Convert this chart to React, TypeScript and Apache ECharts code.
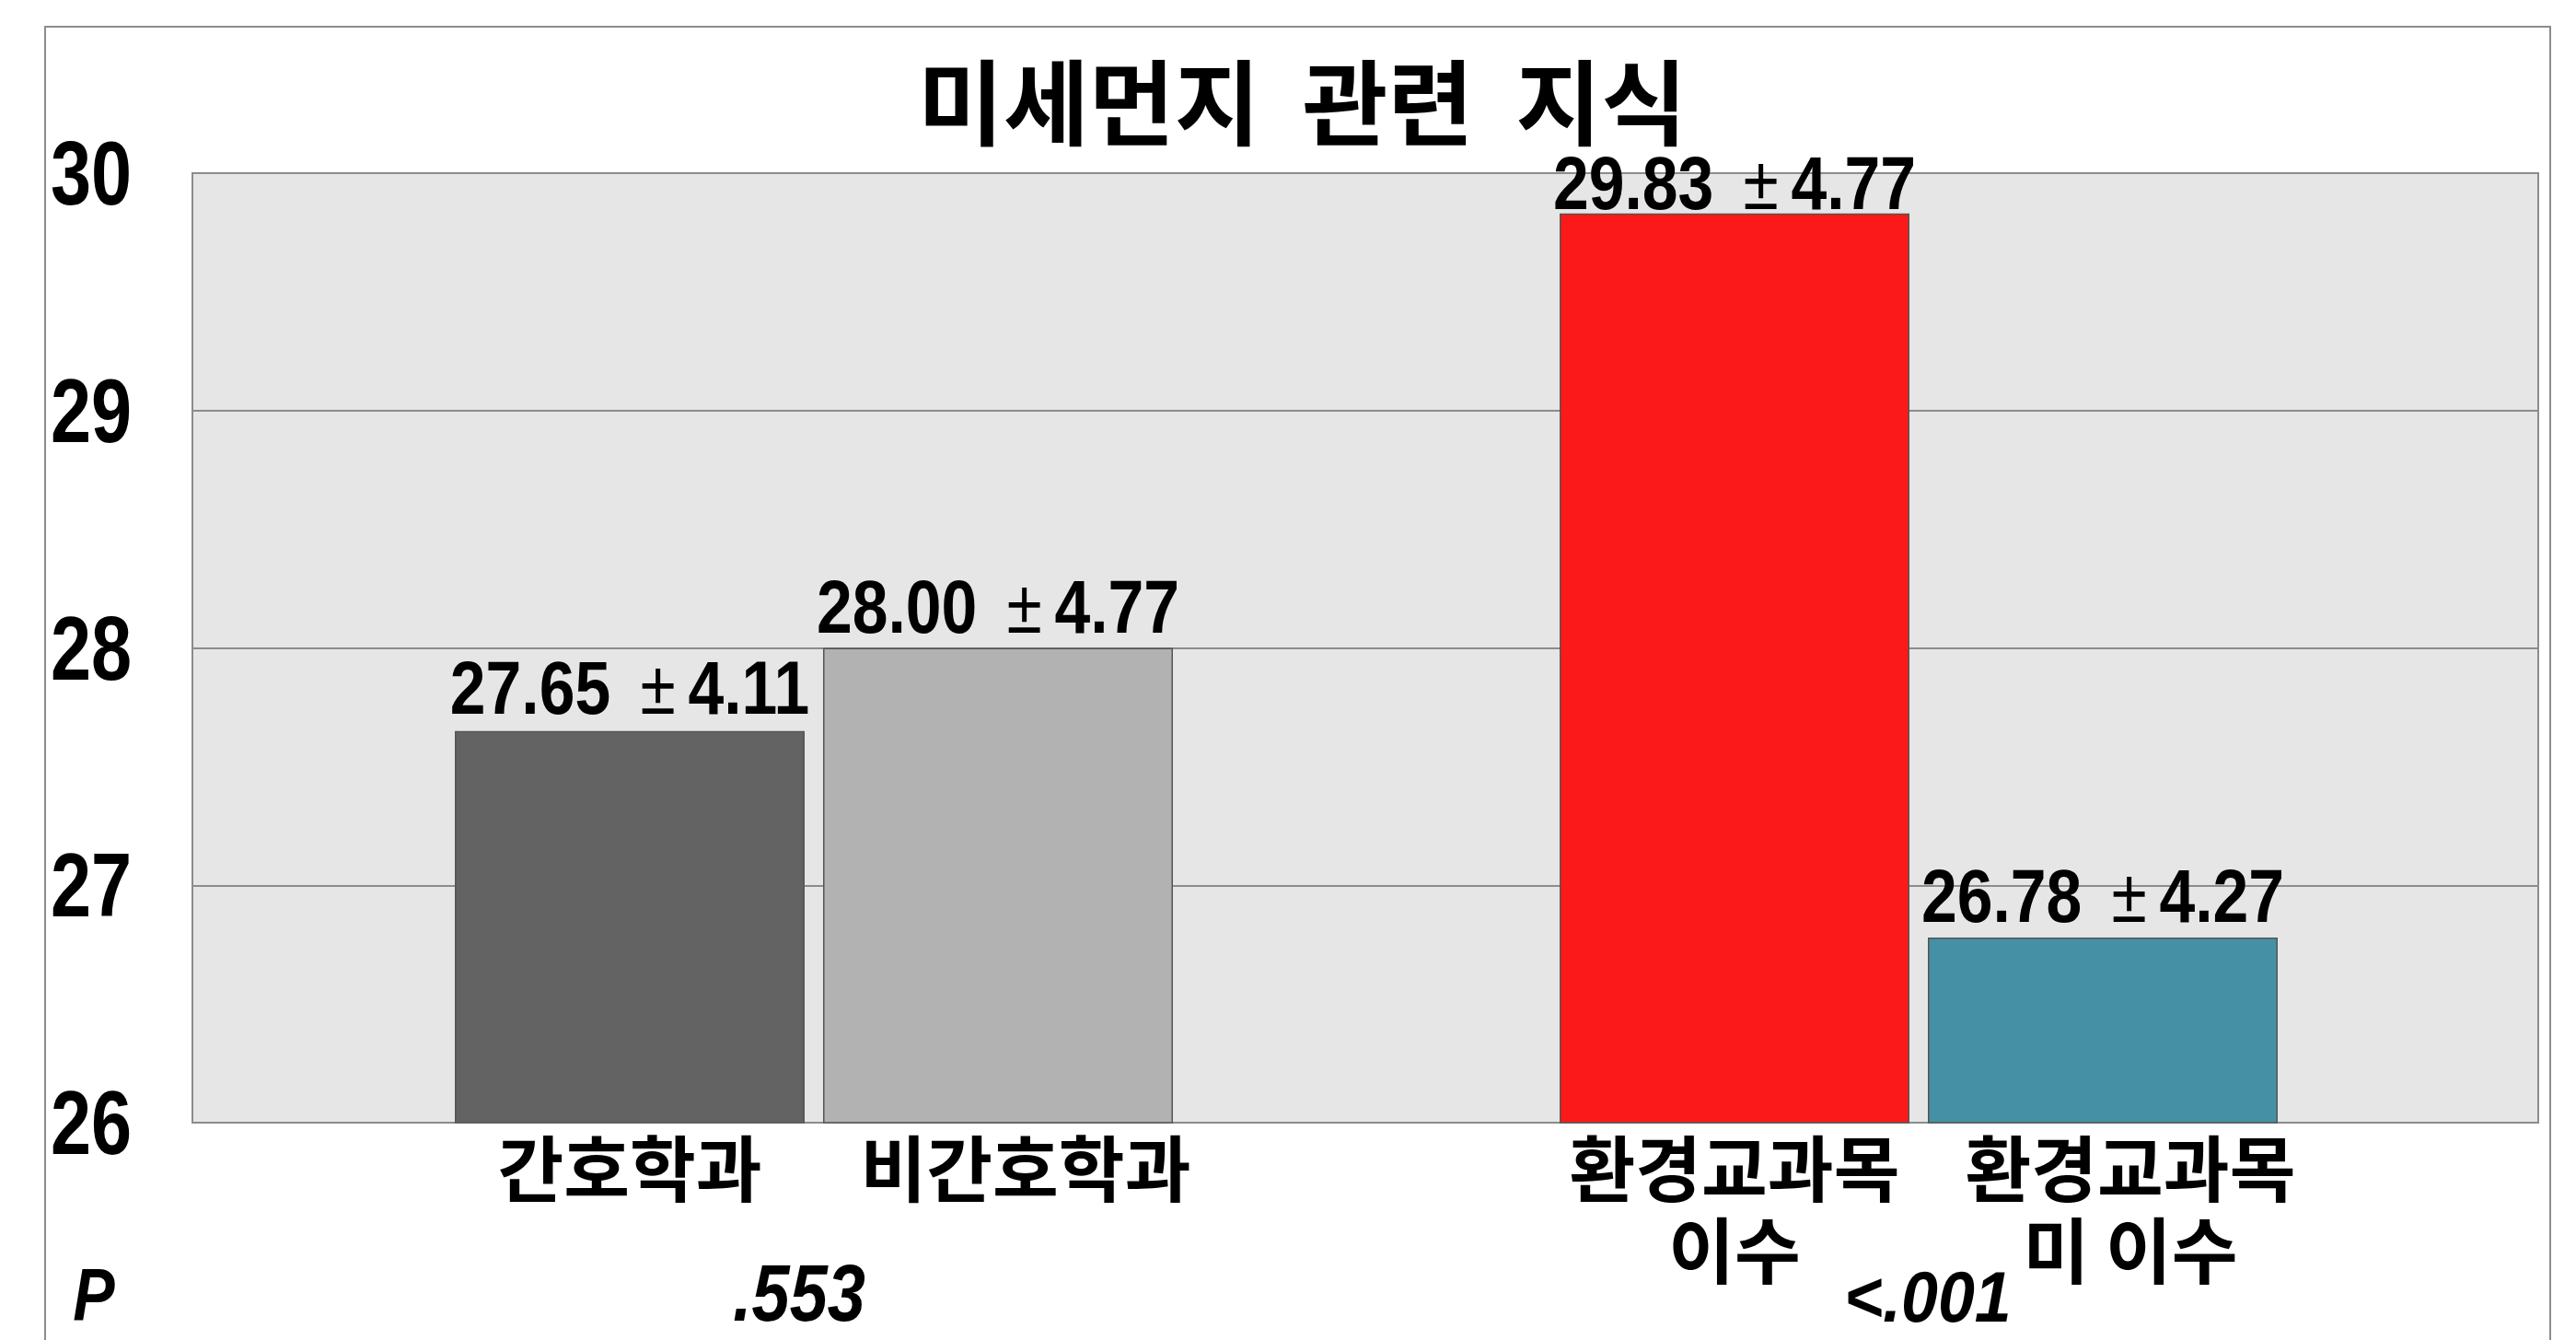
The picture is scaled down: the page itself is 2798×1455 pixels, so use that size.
import React, { useEffect, useRef } from 'react';
import * as echarts from 'echarts';

const title = '미세먼지  관련  지식';
const categories = ['간호학과', '비간호학과', '', '환경교과목\n이수', '환경교과목\n미 이수'];
const means: (number | null)[] = [27.65, 28.0, null, 29.83, 26.78];
const sds: (number | null)[] = [4.11, 4.77, null, 4.77, 4.27];
const barColors: (string | null)[] = ['#636363', '#b2b2b2', null, '#fb1919', '#4590a4'];
const yTicks = [26, 27, 28, 29, 30];
const yStep = 1;
const pLabel = 'P';
const pValues = ['.553', '<.001'];

const NUM_FONT = '"Liberation Sans", Arial, sans-serif';
const KR_FONT = '"Noto Sans CJK KR", "Noto Sans", sans-serif';
const SQUEEZE = 0.8;

export default function App() {
  const ref = useRef<HTMLDivElement>(null);
  useEffect(() => {
    if (!ref.current) return;
    const chart = echarts.init(ref.current, null, { renderer: 'svg' });
    const yMin = yTicks[0];
    const yMax = yTicks[yTicks.length - 1];
    const barData = means.map((m, i) =>
      m === null ? '-' : { value: m, itemStyle: { color: barColors[i] as string } }
    );
    const catData = categories.map((c, i) =>
      i === 1 || i === 4 ? { value: c, textStyle: { padding: [0, 0, 0, 60] } } : c
    );
    chart.setOption({
      animation: false,
      backgroundColor: '#ffffff',
      title: {
        text: title,
        left: 992,
        top: 50,
        textStyle: { fontFamily: KR_FONT, fontWeight: 'bold', fontSize: 101, color: '#000' },
      },
      grid: [
        { left: 209, top: 188, width: 2548, height: 1031, show: true, backgroundColor: '#e6e6e6', borderColor: '#8c8c8c', borderWidth: 2, containLabel: false },
        { left: 484, top: 188, width: 2000, height: 1031, containLabel: false },
      ],
      xAxis: [
        { type: 'category', gridIndex: 0, data: ['a'], show: false },
        {
          type: 'category',
          gridIndex: 1,
          data: catData,
          axisLine: { show: false },
          axisTick: { show: false },
          axisLabel: {
            interval: 0,
            margin: 1,
            fontFamily: KR_FONT,
            fontWeight: 'bold',
            fontSize: 78,
            lineHeight: 89,
            color: '#000',
            verticalAlign: 'top',
          },
        },
      ],
      yAxis: [
        {
          type: 'value',
          gridIndex: 0,
          min: yMin,
          max: yMax,
          interval: yStep,
          axisLine: { show: false },
          axisTick: { show: false },
          splitLine: { lineStyle: { color: '#8c8c8c', width: 2 } },
          axisLabel: { show: false },
        },
        { type: 'value', gridIndex: 1, min: yMin, max: yMax, interval: yStep, show: false },
      ],
      series: [
        {
          type: 'bar',
          xAxisIndex: 1,
          yAxisIndex: 1,
          barWidth: 380,
          data: barData,
          itemStyle: { borderColor: '#555555', borderWidth: 1.5 },
        },
      ],
    });

    // condensed texts drawn through the library's own scales
    const graphics: any[] = [
      {
        type: 'rect',
        shape: { x: 49, y: 29, width: 2721, height: 1500 },
        style: { fill: 'none', stroke: '#8c8c8c', lineWidth: 2 },
        silent: true,
        z: 0,
      },
    ];
    yTicks.forEach((t) => {
      const py = chart.convertToPixel({ yAxisIndex: 0 }, t) as number;
      graphics.push({
        type: 'text',
        x: 143,
        y: py,
        scaleX: SQUEEZE,
        style: { text: String(t), fontFamily: NUM_FONT, fontWeight: 'bold', fontSize: 99, fill: '#000', align: 'right', verticalAlign: 'middle' },
      });
    });
    const labelGaps = [6, 4, 0, -8, 5];
    means.forEach((m, i) => {
      const s = sds[i];
      if (m === null || s === null) return;
      const pt = chart.convertToPixel({ xAxisIndex: 1, yAxisIndex: 1 }, [i, m]) as number[];
      graphics.push({
        type: 'text',
        x: pt[0],
        y: pt[1] - labelGaps[i],
        scaleX: 0.85,
        z: 10,
        style: {
          text: `{n|${m.toFixed(2)}}{g1| }{pm|±}{g2| }{n|${s.toFixed(2)}}`,
          align: 'center',
          verticalAlign: 'bottom',
          rich: {
            n: { fontFamily: NUM_FONT, fontWeight: 'bold', fontSize: 82, fill: '#000', color: '#000' },
            g1: { width: 38, fontSize: 82 },
            pm: { fontFamily: NUM_FONT, fontWeight: 'normal', fontSize: 82, fill: '#000', color: '#000' },
            g2: { width: 16, fontSize: 82 },
          },
        },
      });
    });
    const catLeft = chart.convertToPixel({ xAxisIndex: 1 }, 0) as number;
    const catRight = chart.convertToPixel({ xAxisIndex: 1 }, 1) as number;
    const catA = chart.convertToPixel({ xAxisIndex: 1 }, 3) as number;
    const catB = chart.convertToPixel({ xAxisIndex: 1 }, 4) as number;
    graphics.push(
      {
        type: 'text',
        x: 102,
        y: 1406,
        scaleX: 0.85,
        style: { text: pLabel, fontFamily: NUM_FONT, fontStyle: 'italic', fontWeight: 'bold', fontSize: 80, fill: '#000', align: 'center', verticalAlign: 'middle' },
      },
      {
        type: 'text',
        x: (catLeft + catRight) / 2 - 16,
        y: 1404,
        scaleX: 0.85,
        style: { text: pValues[0], fontFamily: NUM_FONT, fontStyle: 'italic', fontWeight: 'bold', fontSize: 87, fill: '#000', align: 'center', verticalAlign: 'middle' },
      },
      {
        type: 'text',
        x: (catA + catB) / 2 + 10,
        y: 1408,
        scaleX: 0.92,
        style: { text: pValues[1], fontFamily: NUM_FONT, fontStyle: 'italic', fontWeight: 'bold', fontSize: 78, fill: '#000', align: 'center', verticalAlign: 'middle' },
      }
    );
    chart.setOption({ graphic: graphics });
    return () => chart.dispose();
  }, []);
  return <div ref={ref} style={{ position: 'fixed', left: 0, top: 0, width: 2798, height: 1455 }} />;
}
